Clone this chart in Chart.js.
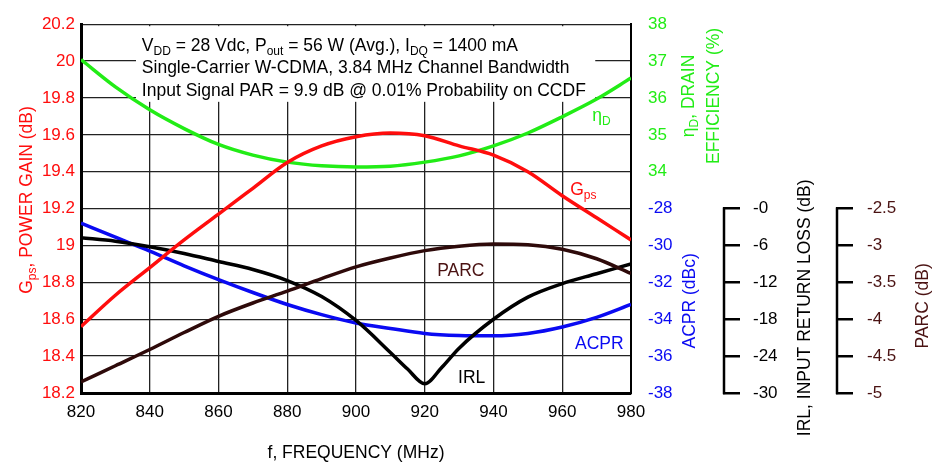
<!DOCTYPE html>
<html>
<head>
<meta charset="utf-8">
<script src="https://cdn.jsdelivr.net/npm/chart.js@4/dist/chart.umd.min.js"></script>
<style>
  html, body { margin: 0; padding: 0; background: #fff; }
</style>
</head>
<body>
<canvas id="chart" width="937" height="470"></canvas>
<script>
// frequency grid (MHz)
const freq = [820, 830, 840, 850, 860, 870, 880, 890, 900, 910, 920, 930, 940, 950, 960, 970, 980];
const gps  = [18.56, 18.73, 18.88, 19.03, 19.17, 19.31, 19.45, 19.54, 19.59, 19.61, 19.595, 19.54, 19.49, 19.40, 19.27, 19.15, 19.03];
const eff  = [37.04, 36.30, 35.68, 35.17, 34.74, 34.45, 34.26, 34.16, 34.13, 34.15, 34.26, 34.43, 34.70, 35.05, 35.49, 35.97, 36.54];
const acpr = [-28.79, -29.55, -30.3, -31.1, -31.85, -32.55, -33.2, -33.75, -34.2, -34.5, -34.77, -34.88, -34.9, -34.77, -34.42, -33.9, -33.2];
const parc = [-4.85, -4.63, -4.41, -4.18, -3.96, -3.78, -3.62, -3.45, -3.29, -3.17, -3.07, -3.01, -2.98, -2.99, -3.05, -3.18, -3.38];
// IRL has a sharp dip, so it gets two extra points
const irlFreq = [820, 830, 840, 850, 860, 870, 880, 890, 900, 910, 915, 920, 925, 930, 940, 950, 960, 970, 980];
const irl     = [-4.74, -5.3, -6.2, -7.3, -8.6, -9.9, -11.7, -14.3, -18.2, -23.4, -26.1, -28.5, -25.8, -22.7, -18.0, -14.4, -12.2, -10.6, -9.0];

// tick labels of the outer axes
const effTicks  = [34, 35, 36, 37, 38];
const acprTicks = [-38, -36, -34, -32, -30, -28];
const irlTicks  = [-30, -24, -18, -12, -6, 0];
const parcTicks = [-5, -4.5, -4, -3.5, -3, -2.5];

const RED = '#ff0d0d', GREEN = '#22ec16', BLUE = '#0a0af2', BROWN = '#2e0a0a', BROWN_TXT = '#4a1212';
const FONT = "'Liberation Sans', Arial, sans-serif";

Chart.defaults.font.family = FONT;
Chart.defaults.font.size = 17;
Chart.defaults.color = '#000';

function pts(xs, ys) {
    return xs.map((x, i) => ({ x: x, y: ys[i] }));
}

function series(label, data, color, axis) {
    return {
        label: label,
        data: data,
        borderColor: color,
        backgroundColor: color,
        borderWidth: 3.5,
        pointRadius: 0,
        cubicInterpolationMode: 'monotone',
        yAxisID: axis
    };
}

const fmt = v => String(Number(v.toFixed(2)));

// text with subscripts: parts = [[text, isSub], ...]
function rich(ctx, parts, x, y, color, size, align) {
    const subSize = Math.round(size * 0.7);
    const widths = parts.map(p => {
        ctx.font = (p[1] ? subSize : size) + 'px ' + FONT;
        return ctx.measureText(p[0]).width;
    });
    const total = widths.reduce((a, b) => a + b, 0);
    let cx = align === 'center' ? x - total / 2 : x;
    ctx.fillStyle = color;
    ctx.textAlign = 'left';
    ctx.textBaseline = 'alphabetic';
    parts.forEach((p, i) => {
        ctx.font = (p[1] ? subSize : size) + 'px ' + FONT;
        ctx.fillText(p[0], cx, p[1] ? y + 4 : y);
        cx += widths[i];
    });
}

function rotText(ctx, parts, cx, cy, color) {
    ctx.save();
    ctx.translate(cx, cy);
    ctx.rotate(-Math.PI / 2);
    rich(ctx, parts, 0, 6, color, 17.5, 'center');
    ctx.restore();
}

const decor = {
    id: 'decor',
    beforeDatasetsDraw(chart) {
        const { ctx, chartArea, scales: { x, y } } = chart;
        // white panel behind the test conditions
        const l = x.getPixelForValue(836), r = x.getPixelForValue(969.6);
        const t = chartArea.top + 2, b = y.getPixelForValue(19.779);
        ctx.save();
        ctx.fillStyle = '#fff';
        ctx.fillRect(l, t, r - l, b - t);
        const tx = x.getPixelForValue(837.7);
        rich(ctx, [['V', 0], ['DD', 1], [' = 28 Vdc, P', 0], ['out', 1], [' = 56 W (Avg.), I', 0], ['DQ', 1], [' = 1400 mA', 0]],
            tx, y.getPixelForValue(20.053), '#000', 17.5);
        rich(ctx, [['Single-Carrier W-CDMA, 3.84 MHz Channel Bandwidth', 0]], tx, y.getPixelForValue(19.937), '#000', 17.5);
        rich(ctx, [['Input Signal PAR = 9.9 dB @ 0.01% Probability on CCDF', 0]], tx, y.getPixelForValue(19.811), '#000', 17.5);
        ctx.restore();
    },
    afterDraw(chart) {
        const { ctx, chartArea, scales: { x, y, yE, yI, yP } } = chart;
        ctx.save();

        // curve labels
        rich(ctx, [['\u03B7', 0], ['D', 1]], x.getPixelForValue(968.7), y.getPixelForValue(19.674), GREEN, 17.5);
        rich(ctx, [['G', 0], ['ps', 1]], x.getPixelForValue(962.3), y.getPixelForValue(19.274), RED, 17.5);
        rich(ctx, [['PARC', 0]], x.getPixelForValue(923.6), y.getPixelForValue(18.837), BROWN_TXT, 17.5);
        rich(ctx, [['ACPR', 0]], x.getPixelForValue(963.7), y.getPixelForValue(18.437), BLUE, 17.5);
        rich(ctx, [['IRL', 0]], x.getPixelForValue(929.7), y.getPixelForValue(18.253), '#000', 17.5);

        // axis titles
        rich(ctx, [['f, FREQUENCY (MHz)', 0]], (chartArea.left + chartArea.right) / 2, 458, '#000', 17.5, 'center');
        rotText(ctx, [['G', 0], ['ps', 1], [', POWER GAIN (dB)', 0]], 26, 200, RED);
        const effMid = (yE.getPixelForValue(34) + yE.getPixelForValue(38)) / 2 - 2;
        rotText(ctx, [['\u03B7', 0], ['D', 1], [', DRAIN', 0]], yE.left + 57, effMid, GREEN);
        rotText(ctx, [['EFFICIENCY (%)', 0]], yE.left + 82, effMid, GREEN);
        const lowMid = (yE.getPixelForValue(28) + yE.getPixelForValue(33)) / 2;
        rotText(ctx, [['ACPR (dBc)', 0]], yE.left + 58, lowMid, BLUE);
        rotText(ctx, [['IRL, INPUT RETURN LOSS (dB)', 0]], yI.left + 81, lowMid + 7, '#000');
        rotText(ctx, [['PARC (dB)', 0]], yP.left + 86, lowMid + 5, BROWN_TXT);

        // partial axis lines for IRL and PARC
        ctx.strokeStyle = '#000';
        ctx.lineWidth = 2.5;
        [[yI, irlTicks], [yP, parcTicks]].forEach(([s, tk]) => {
            ctx.beginPath();
            ctx.moveTo(s.left + 1, s.getPixelForValue(Math.max(...tk)) - 1.2);
            ctx.lineTo(s.left + 1, s.getPixelForValue(Math.min(...tk)) + 1.2);
            ctx.stroke();
        });
        ctx.restore();
    }
};

const GRID = { color: '#222', lineWidth: 1.3, drawTicks: false };

new Chart(document.getElementById('chart'), {
    type: 'line',
    data: {
        datasets: [
            series('Gps', pts(freq, gps), RED, 'y'),
            series('Eff', pts(freq, eff), GREEN, 'yE'),
            series('PARC', pts(freq, parc), BROWN, 'yP'),
            series('IRL', pts(irlFreq, irl), '#000', 'yI'),
            series('ACPR', pts(freq, acpr), BLUE, 'yA')
        ]
    },
    options: {
        responsive: false,
        animation: false,
        layout: { padding: { top: 13, left: 0, right: 0, bottom: 0 } },
        plugins: { legend: { display: false }, tooltip: { enabled: false } },
        scales: {
            x: {
                type: 'linear', min: 820, max: 980,
                ticks: { stepSize: 20, padding: 9, color: '#000' },
                grid: GRID,
                border: { color: '#000', width: 3 },
                afterFit: s => { s.height = 77; }
            },
            y: {
                position: 'left', min: 18.2, max: 20.2,
                ticks: { stepSize: 0.2, padding: 6, color: RED, callback: v => fmt(v) },
                grid: GRID,
                border: { color: '#000', width: 3 },
                afterFit: s => { s.width = 81; }
            },
            yE: {
                position: 'right', min: 28, max: 38,
                afterBuildTicks: s => {
                    s.ticks = acprTicks.map(a => ({ value: 33 + (a + 28) / 2 }))
                        .concat(effTicks.map(v => ({ value: v })));
                },
                ticks: {
                    padding: 9,
                    color: c => (c.tick && c.tick.value >= 34 ? GREEN : BLUE),
                    callback: v => (v >= 34 ? fmt(v) : fmt(-28 - (33 - v) * 2))
                },
                grid: { display: false },
                border: { color: '#000', width: 2 },
                afterFit: s => { s.width = 92; }
            },
            yI: {
                position: 'right', min: -30, max: 30,
                afterBuildTicks: s => { s.ticks = irlTicks.map(v => ({ value: v })); },
                ticks: { padding: 13, color: '#000', callback: v => (v === 0 ? '-0' : fmt(v)) },
                grid: { drawOnChartArea: false, color: '#000', lineWidth: 2.5, tickLength: 17 },
                border: { display: false },
                afterFit: s => { s.width = 113; }
            },
            yP: {
                position: 'right', min: -5, max: 0,
                afterBuildTicks: s => { s.ticks = parcTicks.map(v => ({ value: v })); },
                ticks: { padding: 14, color: BROWN_TXT, callback: v => fmt(v) },
                grid: { drawOnChartArea: false, color: '#000', lineWidth: 2.5, tickLength: 17 },
                border: { display: false },
                afterFit: s => { s.width = 101; }
            },
            yA: { display: false, min: -38, max: -18 }
        }
    },
    plugins: [decor]
});
</script>
</body>
</html>
